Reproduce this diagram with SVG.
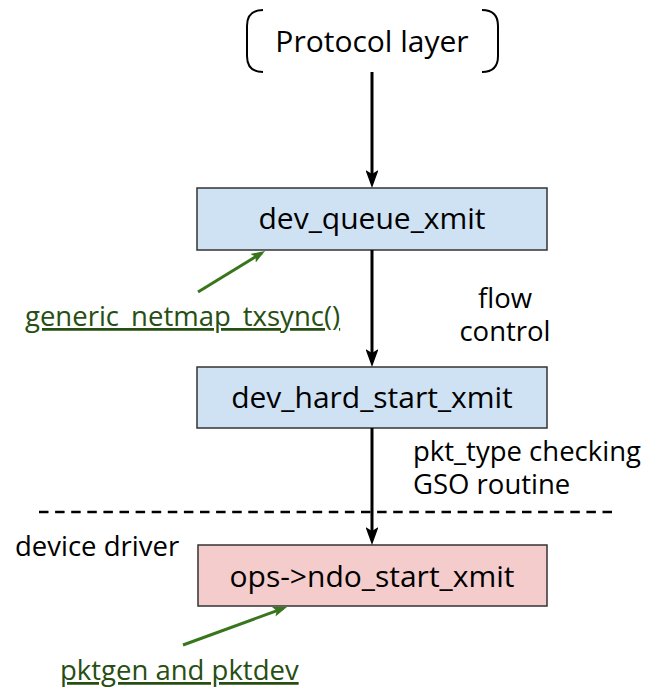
<svg xmlns="http://www.w3.org/2000/svg" width="645" height="688" viewBox="0 0 645 688">
  <style>
    text { font-family: "Open Sans", "Noto Sans", "DejaVu Sans", sans-serif; fill: #000; }
    .lbl { font-size: 30px; text-anchor: middle; }
    .note { font-size: 27.5px; }
    .link { font-size: 27.5px; fill: #274e13; text-decoration: underline; }
    .box { stroke: #333; stroke-width: 1.5; }
    .blue { fill: #cfe2f3; }
    .pink { fill: #f4cccc; }
    .bracket { fill: none; stroke: #000; stroke-width: 2; }
    .flow { stroke: #000; stroke-width: 3; fill: none; }
    .hint { stroke: #38761d; stroke-width: 3; fill: none; }
  </style>
  <defs>
    <!-- notched arrowheads; tip sits a few px beyond the line end -->
    <marker id="ah" viewBox="0 0 18 13" refX="13" refY="6.5" markerWidth="6" markerHeight="4.33" orient="auto" markerUnits="strokeWidth">
      <path d="M0,0 L18,6.5 L0,13 L4,6.5 z" fill="#000"/>
    </marker>
    <marker id="ahg" viewBox="0 0 18 13" refX="13" refY="6.5" markerWidth="4.7" markerHeight="3.4" orient="auto" markerUnits="strokeWidth">
      <path d="M0,0 L18,6.5 L0,13 L4,6.5 z" fill="#38761d"/>
    </marker>
  </defs>

  <g id="protocol-layer">
    <path class="bracket" d="M263,10 Q247,10 247,26 L247,56 Q247,72 263,72"/>
    <path class="bracket" d="M482,10 Q498,10 498,26 L498,56 Q498,72 482,72"/>
    <text class="lbl" x="372" y="52">Protocol layer</text>
  </g>

  <g id="dev-queue-xmit">
    <rect class="box blue" x="197" y="188" width="350" height="62"/>
    <text class="lbl" x="372" y="229">dev_queue_xmit</text>
  </g>

  <g id="dev-hard-start-xmit">
    <rect class="box blue" x="197" y="367" width="350" height="61"/>
    <text class="lbl" x="372" y="408">dev_hard_start_xmit</text>
  </g>

  <g id="ndo-start-xmit">
    <rect class="box pink" x="198" y="545" width="349" height="61"/>
    <text class="lbl" x="372" y="587">ops-&gt;ndo_start_xmit</text>
  </g>

  <g id="annotations">
    <text class="note" x="505" y="308" text-anchor="middle">flow</text>
    <text class="note" x="505" y="341" text-anchor="middle">control</text>
    <text class="note" x="413" y="461">pkt_type checking</text>
    <text class="note" x="413" y="494">GSO routine</text>
    <text class="note" x="15" y="556">device driver</text>
    <text class="link" x="25" y="326">generic_netmap_txsync()</text>
    <text class="link" x="60" y="680">pktgen and pktdev</text>
  </g>

  <line id="layer-boundary" x1="39" y1="512" x2="612" y2="512" stroke="#000" stroke-width="2.5" stroke-dasharray="9.5,6.6"/>

  <g id="connectors">
    <line class="flow" x1="372" y1="72" x2="372" y2="183" marker-end="url(#ah)"/>
    <line class="flow" x1="372" y1="250" x2="372" y2="362" marker-end="url(#ah)"/>
    <line class="flow" x1="372" y1="428" x2="372" y2="540" marker-end="url(#ah)"/>
    <line class="hint" x1="198" y1="292" x2="261.7" y2="253" marker-end="url(#ahg)"/>
    <line class="hint" x1="183" y1="645" x2="283.3" y2="608.3" marker-end="url(#ahg)"/>
  </g>
</svg>
